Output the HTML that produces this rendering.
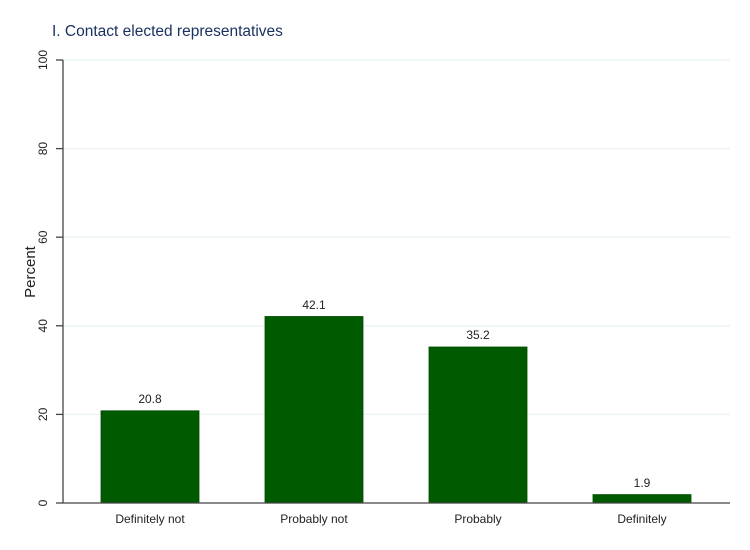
<!DOCTYPE html><html><head><style>body{margin:0;background:#fff}</style></head><body>
<svg width="750" height="545" xmlns="http://www.w3.org/2000/svg" font-family="Liberation Sans, Arial, sans-serif">
<rect width="750" height="545" fill="#fff"/>
<text x="52" y="36" font-size="15.5" fill="#1a3260">I. Contact elected representatives</text>
<g stroke="#eaf2f3" stroke-width="1.3">
<line x1="63" x2="730" y1="60" y2="60"/><line x1="63" x2="730" y1="148.6" y2="148.6"/><line x1="63" x2="730" y1="237.2" y2="237.2"/><line x1="63" x2="730" y1="325.8" y2="325.8"/><line x1="63" x2="730" y1="414.4" y2="414.4"/>
</g>
<g fill="#005a00" stroke="#004a00" stroke-width="0.8">
<rect x="101" y="410.8" width="98" height="92.2"/>
<rect x="265" y="316.5" width="98" height="186.5"/>
<rect x="429" y="347" width="98" height="156"/>
<rect x="593" y="494.6" width="98" height="8.4"/>
</g>
<g stroke="#444" stroke-width="1.3">
<line x1="63" x2="63" y1="60" y2="503"/><line x1="62.4" x2="730" y1="503" y2="503"/>
<line x1="56" x2="63" y1="60" y2="60"/><line x1="56" x2="63" y1="148.6" y2="148.6"/><line x1="56" x2="63" y1="237.2" y2="237.2"/><line x1="56" x2="63" y1="325.8" y2="325.8"/><line x1="56" x2="63" y1="414.4" y2="414.4"/><line x1="56" x2="63" y1="503" y2="503"/>
</g>
<g font-size="12" fill="#222" text-anchor="middle">
<text transform="translate(47,60) rotate(-90)">100</text>
<text transform="translate(47,148.6) rotate(-90)">80</text>
<text transform="translate(47,237.2) rotate(-90)">60</text>
<text transform="translate(47,325.8) rotate(-90)">40</text>
<text transform="translate(47,414.4) rotate(-90)">20</text>
<text transform="translate(47,503) rotate(-90)">0</text>
<text transform="translate(35,272) rotate(-90)" font-size="15">Percent</text>
<text x="150" y="403">20.8</text><text x="314" y="309">42.1</text><text x="478" y="339">35.2</text><text x="642" y="487">1.9</text>
<text x="150" y="523">Definitely not</text><text x="314" y="523">Probably not</text><text x="478" y="523">Probably</text><text x="642" y="523">Definitely</text>
</g>
</svg></body></html>
